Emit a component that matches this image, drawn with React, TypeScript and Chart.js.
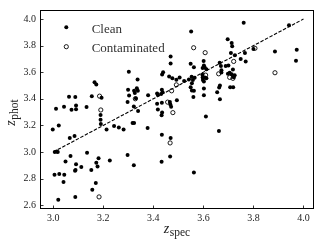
import React, { useEffect, useRef } from "react";
import { Chart, registerables } from "chart.js";

Chart.register(...registerables);

const xTicks = [3.0, 3.2, 3.4, 3.6, 3.8, 4.0];
const yTicks = [2.6, 2.8, 3.0, 3.2, 3.4, 3.6, 3.8, 4.0];
const xRange = [2.947, 4.042];
const yRange = [2.571, 4.068];
const oneToOne = [3.0, 4.0];

const legendLabels = ["Clean", "Contaminated"];

const cleanZspec = [
  3.011, 3.043, 3.063, 3.088, 3.073, 3.091, 3.091, 3.133, 3.154, 3.165, 3.172, 3.193, 3.189, 3.189, 3.19,
  3.302, 3.299, 3.303, 3.297, 3.323, 3.334, 3.338, 3.326, 3.33, 3.337, 3.322, 3.339, 3.379, 3.415, 3.418,
  3.434, 3.437, 3.431, 3.415, 3.434, 3.418, 3.435, 3.433, 3.466, 3.468, 3.471, 3.494, 3.523, 3.542, 3.558,
  3.554, 3.549, 3.554, 3.562, 3.56, 3.602, 3.602, 3.602, 3.655, 3.663, 3.666, 3.666, 3.61, 3.662, 3.434,
  3.469, 3.433, 3.467, 3.562, 3.377, 3.317, 3.323,
  3.551, 3.469, 3.469, 3.601, 3.602, 3.605, 3.597, 3.612, 3.549, 3.562, 3.665, 3.67, 3.439, 3.435, 3.463,
  3.476, 3.492, 3.505, 3.553, 3.565, 3.596, 3.597, 3.606, 3.598, 3.612, 3.761, 3.942, 3.697, 3.713, 3.715,
  3.71, 3.726, 3.766, 3.749, 3.769, 3.8, 3.886, 3.973, 3.97, 3.689, 3.7, 3.718, 3.705, 3.698, 3.713, 3.725,
  3.721, 3.672, 3.672, 3.707, 3.719,
  2.998, 3.022, 3.066, 3.085, 3.006, 3.014, 3.018, 3.005, 3.024, 3.044, 3.041, 3.049, 3.069, 3.091, 3.089,
  3.087, 3.112, 3.135, 3.152, 3.172, 3.181, 3.177, 3.17, 3.156, 3.088, 3.02, 3.213, 3.243, 3.262, 3.281,
  3.226, 3.297, 3.322,
];
const cleanZphot = [
  3.326, 3.34, 3.416, 3.414, 3.318, 3.321, 3.35, 3.338, 3.419, 3.524, 3.507, 3.407, 3.279, 3.243, 3.21,
  3.603, 3.468, 3.424, 3.375, 3.46, 3.48, 3.46, 3.443, 3.405, 3.546, 3.343, 3.309, 3.426, 3.44, 3.428,
  3.468, 3.45, 3.436, 3.362, 3.37, 3.32, 3.296, 3.276, 3.375, 3.358, 3.34, 3.39, 3.534, 3.546, 3.541,
  3.517, 3.487, 3.463, 3.46, 3.414, 3.53, 3.478, 3.426, 3.45, 3.485, 3.397, 3.5, 3.267, 3.157, 3.13,
  3.105, 2.926, 2.965, 2.845, 3.181, 3.218, 3.218,
  3.907, 3.718, 3.666, 3.684, 3.651, 3.637, 3.632, 3.622, 3.664, 3.637, 3.671, 3.647, 3.6, 3.583, 3.568,
  3.554, 3.543, 3.561, 3.566, 3.559, 3.581, 3.561, 3.561, 3.541, 3.554, 3.973, 3.953, 3.848, 3.82, 3.796,
  3.745, 3.728, 3.745, 3.7, 3.68, 3.774, 3.755, 3.769, 3.686, 3.647, 3.651, 3.62, 3.596, 3.588, 3.585, 3.578,
  3.563, 3.615, 3.598, 3.487, 3.487,
  3.169, 3.199, 3.105, 3.12, 3.0, 3.004, 3.0, 2.829, 2.834, 2.829, 2.775, 2.929, 2.97, 2.907, 2.865,
  2.858, 2.887, 2.995, 2.864, 2.919, 2.953, 2.89, 2.766, 2.716, 2.662, 2.64, 3.169, 3.196, 3.184, 3.169,
  2.936, 2.978, 2.901,
];

const contamZspec = [
  3.185, 3.19, 3.328, 3.457, 3.478, 3.473, 3.492, 3.467, 3.561, 3.607, 3.609, 3.661, 3.806, 3.886, 3.721,
  3.705, 3.718, 3.183,
];
const contamZphot = [
  3.42, 3.316, 3.4, 3.375, 3.296, 3.46, 3.505, 3.068, 3.784, 3.747, 3.578, 3.588, 3.78, 3.596, 3.681,
  3.561, 3.554, 2.662,
];

const toPoints = (xs: number[], ys: number[]) => xs.map((x, i) => ({ x, y: ys[i] }));

const SERIF = "'Liberation Serif', 'Times New Roman', serif";

const decorPlugin = {
  id: "decor",
  afterDraw(chart: any) {
    const { ctx, chartArea: a, scales } = chart;
    const xs = scales.x;
    const ys = scales.y;
    ctx.save();
    ctx.strokeStyle = "#000";
    ctx.lineWidth = 1;
    ctx.strokeRect(Math.round(a.left) + 0.5, Math.round(a.top) + 0.5, Math.round(a.right - a.left) - 1, Math.round(a.bottom - a.top) - 1);
    ctx.lineWidth = 0.8;
    ctx.beginPath();
    xTicks.forEach((v) => {
      const px = Math.round(xs.getPixelForValue(v)) + 0.5;
      ctx.moveTo(px, a.bottom);
      ctx.lineTo(px, a.bottom - 3.5);
    });
    yTicks.forEach((v) => {
      const py = Math.round(ys.getPixelForValue(v)) + 0.5;
      ctx.moveTo(a.left, py);
      ctx.lineTo(a.left + 3.5, py);
    });
    ctx.stroke();

    const lx = a.left + 26.3;
    ctx.fillStyle = "#000";
    ctx.beginPath();
    ctx.arc(lx, a.top + 17.3, 2.0, 0, Math.PI * 2);
    ctx.fill();
    ctx.beginPath();
    ctx.arc(lx, a.top + 36.7, 2.1, 0, Math.PI * 2);
    ctx.lineWidth = 0.9;
    ctx.stroke();
    ctx.fillStyle = "#333";
    ctx.font = `13px ${SERIF}`;
    ctx.textBaseline = "alphabetic";
    ctx.textAlign = "left";
    ctx.fillText(legendLabels[0], a.left + 51.7, a.top + 22.7);
    ctx.fillText(legendLabels[1], a.left + 51.7, a.top + 42.3);

    const drawTitle = (main: string, sub: string) => {
      ctx.font = `italic 14px ${SERIF}`;
      const w1 = ctx.measureText(main).width;
      ctx.font = `11.5px ${SERIF}`;
      const w2 = ctx.measureText(sub).width;
      const total = w1 + w2 + 0.5;
      ctx.font = `italic 14px ${SERIF}`;
      ctx.fillText(main, -total / 2, 0);
      ctx.font = `11.5px ${SERIF}`;
      ctx.fillText(sub, -total / 2 + w1 + 0.5, 2.5);
    };
    ctx.fillStyle = "#222";
    ctx.save();
    ctx.translate((a.left + a.right) / 2, 233);
    drawTitle("z", "spec");
    ctx.restore();
    ctx.save();
    ctx.translate(15, (a.top + a.bottom) / 2 + 3);
    ctx.rotate(-Math.PI / 2);
    drawTitle("z", "phot");
    ctx.restore();
    ctx.restore();
  },
};

export default function App() {
  const ref = useRef<HTMLCanvasElement | null>(null);
  useEffect(() => {
    if (!ref.current) return;
    const chart = new Chart(ref.current, {
      type: "scatter",
      data: {
        datasets: [
          {
            label: legendLabels[0],
            data: toPoints(cleanZspec, cleanZphot),
            backgroundColor: "#000",
            borderColor: "#000",
            borderWidth: 0,
            pointRadius: 2.0,
          },
          {
            label: legendLabels[1],
            data: toPoints(contamZspec, contamZphot),
            backgroundColor: "rgba(255,255,255,0)",
            borderColor: "#000",
            borderWidth: 0.9,
            pointRadius: 2.1,
          },
          {
            type: "line",
            label: "1:1",
            data: toPoints(oneToOne, oneToOne),
            borderColor: "#000",
            borderWidth: 1.1,
            borderDash: [3.5, 1.6],
            pointRadius: 0,
            fill: false,
          } as any,
        ],
      },
      options: {
        responsive: false,
        animation: false,
        devicePixelRatio: 1,
        layout: { padding: { top: 5, right: 5, left: 0, bottom: 0 } },
        plugins: { legend: { display: false }, tooltip: { enabled: false } },
        scales: {
          x: {
            type: "linear",
            min: xRange[0],
            max: xRange[1],
            grid: { display: false, drawTicks: false },
            border: { display: false },
            afterBuildTicks: (s: any) => {
              s.ticks = xTicks.map((v) => ({ value: v }));
            },
            afterFit: (s: any) => {
              s.height = 36;
            },
            ticks: {
              padding: 3,
              color: "#222",
              font: { family: SERIF, size: 10 },
              maxRotation: 0,
              autoSkip: false,
              callback: (v: any) => Number(v).toFixed(1),
            },
          },
          y: {
            type: "linear",
            min: yRange[0],
            max: yRange[1],
            grid: { display: false, drawTicks: false },
            border: { display: false },
            afterBuildTicks: (s: any) => {
              s.ticks = yTicks.map((v) => ({ value: v }));
            },
            afterFit: (s: any) => {
              s.width = 40;
            },
            ticks: {
              padding: 4,
              color: "#222",
              font: { family: SERIF, size: 10 },
              autoSkip: false,
              callback: (v: any) => Number(v).toFixed(1),
            },
          },
        },
      },
      plugins: [decorPlugin],
    });
    return () => chart.destroy();
  }, []);
  return (
    <div style={{ position: "absolute", left: 0, top: 0, width: 319, height: 245, background: "#fff" }}>
      <canvas ref={ref} width={319} height={245} />
    </div>
  );
}
